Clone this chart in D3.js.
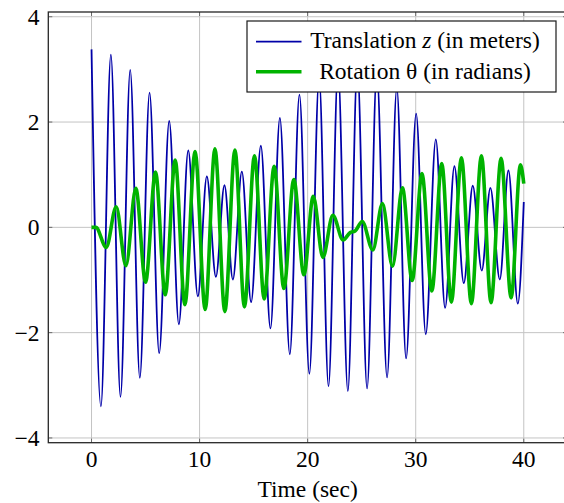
<!DOCTYPE html>
<html>
<head>
<meta charset="utf-8">
<script src="https://cdn.jsdelivr.net/npm/d3@7"></script>
<style>
  html, body { margin: 0; padding: 0; background: #fff; }
  svg { display: block; }
  text { font-family: "Liberation Serif", "Times New Roman", serif; fill: #000; }
</style>
</head>
<body>
<script>
// Wilberforce pendulum response: turning points of each signal, [time (s), value]
const translationZ = [
  [0, 3.38], [0.87, -3.40], [1.79, 3.28], [2.68, -3.22], [3.58, 2.99], [4.47, -2.86],
  [5.37, 2.56], [6.26, -2.39], [7.19, 2.02], [8.08, -1.84], [8.95, 1.46], [9.84, -1.31],
  [10.67, 0.97], [11.51, -0.94], [12.30, 0.80], [13.08, -0.99], [13.91, 1.06], [14.77, -1.42],
  [15.67, 1.55], [16.56, -1.92], [17.43, 2.08], [18.35, -2.41], [19.24, 2.52], [20.16, -2.78],
  [21.06, 2.85], [21.93, -3.02], [22.81, 3.00], [23.72, -3.11], [24.60, 3.05], [25.50, -3.06],
  [26.40, 2.95], [27.35, -2.85], [28.25, 2.65], [29.11, -2.49], [30.04, 2.16], [30.93, -2.03],
  [31.86, 1.67], [32.72, -1.53], [33.58, 1.16], [34.45, -1.06], [35.28, 0.79], [36.11, -0.82],
  [36.91, 0.75], [37.78, -0.99], [38.58, 1.08], [39.45, -1.45], [40.0, 0.48]
];

const rotationTheta = [
  [0, 0], [0.40, 0], [1.36, -0.38], [2.28, 0.39], [3.18, -0.73], [4.10, 0.74],
  [5.00, -1.04], [5.92, 1.05], [6.82, -1.28], [7.74, 1.28], [8.64, -1.47], [9.58, 1.44],
  [10.52, -1.56], [11.42, 1.49], [12.34, -1.60], [13.27, 1.47], [14.15, -1.51], [15.08, 1.36],
  [15.98, -1.36], [16.90, 1.16], [17.80, -1.16], [18.72, 0.91], [19.65, -0.90], [20.52, 0.59],
  [21.41, -0.57], [22.33, 0.23], [23.28, -0.24], [23.93, -0.10], [24.39, -0.07], [25.05, 0.11],
  [26.03, -0.43], [26.92, 0.45], [27.85, -0.74], [28.77, 0.75], [29.67, -1.01], [30.58, 1.02],
  [31.49, -1.21], [32.41, 1.21], [33.30, -1.42], [34.23, 1.32], [35.15, -1.45], [36.08, 1.36],
  [36.97, -1.43], [37.90, 1.31], [38.83, -1.34], [39.69, 1.19], [40.0, 0.83]
];

const xTicks = [0, 10, 20, 30, 40];
const yTicks = [-4, -2, 0, 2, 4];
const xDomain = [-4, 44];
const yDomain = [-4.09, 4.09];

const seriesLabels = ["Translation ", "z", " (in meters)", "Rotation \u03b8 (in radians)"];
const xLabel = "Time (sec)";

const W = 564, H = 503;
const plot = { left: 48.3, right: 567, top: 12, bottom: 442.7 };
const zColor = "#0000a8", thetaColor = "#00b300";

const svg = d3.select("body").append("svg").attr("width", W).attr("height", H);

const x = d3.scaleLinear().domain(xDomain).range([plot.left, plot.right]);
const y = d3.scaleLinear().domain(yDomain).range([plot.bottom, plot.top]);

// grid
const grid = svg.append("g").attr("stroke", "#c4c4c4").attr("stroke-width", 1);
grid.selectAll(".gx").data(xTicks).join("line")
  .attr("x1", d => x(d)).attr("x2", d => x(d))
  .attr("y1", plot.top).attr("y2", plot.bottom);
grid.selectAll(".gy").data(yTicks).join("line")
  .attr("x1", plot.left).attr("x2", plot.right)
  .attr("y1", d => y(d)).attr("y2", d => y(d));

// inward tick marks on all four sides
const tickLen = 4;
const ticks = svg.append("g").attr("stroke", "#6a6a6a").attr("stroke-width", 1);
xTicks.forEach(d => {
  ticks.append("line").attr("x1", x(d)).attr("x2", x(d)).attr("y1", plot.bottom).attr("y2", plot.bottom - tickLen);
  ticks.append("line").attr("x1", x(d)).attr("x2", x(d)).attr("y1", plot.top).attr("y2", plot.top + tickLen);
});
yTicks.forEach(d => {
  ticks.append("line").attr("x1", plot.left).attr("x2", plot.left + tickLen).attr("y1", y(d)).attr("y2", y(d));
  ticks.append("line").attr("x1", plot.right).attr("x2", plot.right - tickLen).attr("y1", y(d)).attr("y2", y(d));
});

// curves
const line = d3.line()
  .x(d => x(d[0]))
  .y(d => y(d[1]))
  .curve(d3.curveMonotoneX);

svg.append("clipPath").attr("id", "plotclip").append("rect")
  .attr("x", plot.left).attr("y", plot.top)
  .attr("width", plot.right - plot.left).attr("height", plot.bottom - plot.top);

const curves = svg.append("g").attr("clip-path", "url(#plotclip)");
curves.append("path").datum(translationZ)
  .attr("d", line)
  .attr("fill", "none")
  .attr("stroke", zColor)
  .attr("stroke-width", 1.8)
  .attr("stroke-linejoin", "round");
curves.append("path").datum(rotationTheta)
  .attr("d", line)
  .attr("fill", "none")
  .attr("stroke", thetaColor)
  .attr("stroke-width", 3.6)
  .attr("stroke-linejoin", "round");

// frame
svg.append("rect")
  .attr("x", plot.left).attr("y", plot.top)
  .attr("width", plot.right - plot.left).attr("height", plot.bottom - plot.top)
  .attr("fill", "none").attr("stroke", "#262626").attr("stroke-width", 1.3);

// tick labels
const fs = 23.5;
svg.append("g").selectAll("text").data(xTicks).join("text")
  .attr("x", d => x(d)).attr("y", 467)
  .attr("text-anchor", "middle")
  .attr("font-size", fs)
  .text(d => d3.format("d")(d));

svg.append("g").selectAll("text").data(yTicks).join("text")
  .attr("x", 39.5).attr("y", d => y(d) + 7.9)
  .attr("text-anchor", "end")
  .attr("font-size", fs)
  .text(d => (d < 0 ? "\u2212" + Math.abs(d) : String(d)));

// axis title
svg.append("text")
  .attr("x", (x(0) + x(40)) / 2).attr("y", 497)
  .attr("text-anchor", "middle")
  .attr("font-size", fs)
  .text(xLabel);

// legend
const legend = svg.append("g");
legend.append("rect")
  .attr("x", 247).attr("y", 21).attr("width", 309).attr("height", 71)
  .attr("fill", "#fff").attr("stroke", "#1a1a1a").attr("stroke-width", 1.2);
legend.append("line")
  .attr("x1", 256).attr("x2", 301.5).attr("y1", 41.7).attr("y2", 41.7)
  .attr("stroke", zColor).attr("stroke-width", 1.8);
legend.append("line")
  .attr("x1", 256).attr("x2", 301.5).attr("y1", 71.7).attr("y2", 71.7)
  .attr("stroke", thetaColor).attr("stroke-width", 3.6);
const t1 = legend.append("text")
  .attr("x", 425).attr("y", 47.7)
  .attr("text-anchor", "middle")
  .attr("font-size", fs);
t1.append("tspan").text(seriesLabels[0]);
t1.append("tspan").attr("font-style", "italic").text(seriesLabels[1]);
t1.append("tspan").text(seriesLabels[2]);
legend.append("text")
  .attr("x", 425).attr("y", 78.7)
  .attr("text-anchor", "middle")
  .attr("font-size", fs)
  .text(seriesLabels[3]);
</script>
</body>
</html>
